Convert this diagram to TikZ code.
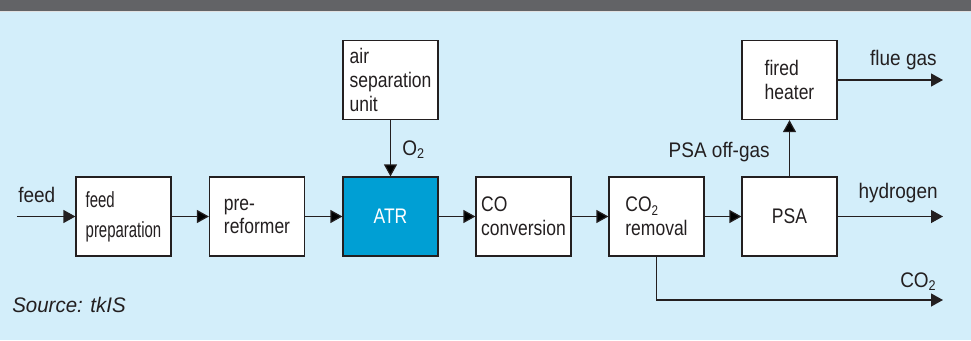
\documentclass[tikz,border=0pt]{standalone}
\usepackage{fontspec}
\setmainfont[FakeStretch=0.9]{Liberation Sans}
\newfontfamily\boxfont[FakeStretch=0.83]{Liberation Sans}
\newfontfamily\narrowfont[FakeStretch=0.68]{Liberation Sans}
\newfontfamily\srcfont[FakeStretch=0.97]{Liberation Sans}
\usetikzlibrary{arrows.meta}
\definecolor{panel}{HTML}{D3EEFA}
\definecolor{headbar}{HTML}{626366}
\definecolor{atrblue}{HTML}{009FD4}
\definecolor{ink}{HTML}{231F20}
\begin{document}
\begin{tikzpicture}[
  font=\fontsize{12}{14}\selectfont, text=ink,
  plantbox/.style={shape=rectangle, draw=ink, fill=white, line width=0.7pt, minimum width=1.9cm, minimum height=1.58cm, align=left, inner sep=0pt, font=\boxfont\fontsize{12}{13.5}\selectfont},
  flow/.style={draw=ink, line width=0.7pt, -{Triangle[length=0.24cm, width=0.26cm]}},
  tag/.style={inner sep=0pt}]
\useasboundingbox (0,0) rectangle (19.42,6.8);
\fill[panel] (0,0) rectangle (19.42,6.8);
\fill[headbar] (0,6.58) rectangle (19.42,6.8);
\draw[white!80!headbar, line width=0.6pt] (0,6.57) -- (19.42,6.57);
% process units
\node[plantbox, font=\narrowfont\fontsize{12.5}{17}\selectfont] (1) at (2.47,2.47) {feed\\preparation};
\node[plantbox] (2) at (5.14,2.47) {pre-\\reformer};
\node[plantbox, fill=atrblue, text=white] (3) at (7.81,2.47) {ATR};
\node[plantbox] (4) at (10.47,2.47) {CO\\conversion};
\node[plantbox] (5) at (13.13,2.47) {CO\textsubscript{2}\\removal};
\node[plantbox] (6) at (15.79,2.47) {PSA};
\node[plantbox] (7) at (15.79,5.2) {fired\\heater};
\node[plantbox] (8) at (7.81,5.2) {air\\separation\\unit};
% free ends
\coordinate (feedin) at (0.34,2.47);
\coordinate (fgout) at (18.86,5.2);
\coordinate (h2out) at (18.86,2.47);
\coordinate (co2out) at (18.86,0.8);
% streams
\draw [flow] (feedin) -- (1);
\path [flow] (1) edge (2);
\path [flow] (2) edge (3);
\path [flow] (3) edge (4);
\path [flow] (4) edge (5);
\path [flow] (5) edge (6);
\path [flow] (8) edge (3);
\path [flow] (6) edge (7);
\draw [flow] (7) -- (fgout);
\draw [flow] (6) -- (h2out);
\draw [flow] (5.south) |- (co2out);
% labels
\node[tag, anchor=base west] (feed) at (0.36,2.76) {feed};
\node[tag, anchor=base west] (o2) at (8.04,3.7) {O\textsubscript{2}};
\node[tag, anchor=base east] (off) at (15.4,3.66) {PSA off-gas};
\node[tag, anchor=base east] (flue) at (18.74,5.5) {flue gas};
\node[tag, anchor=base east] (hyd) at (18.76,2.84) {hydrogen};
\node[tag, anchor=base east] (co2l) at (18.74,1.06) {CO\textsubscript{2}};
\node[tag, anchor=base west, font=\srcfont\fontsize{12}{14}\itshape] (src) at (0.24,0.56) {Source: tkIS};
\end{tikzpicture}
\end{document}
